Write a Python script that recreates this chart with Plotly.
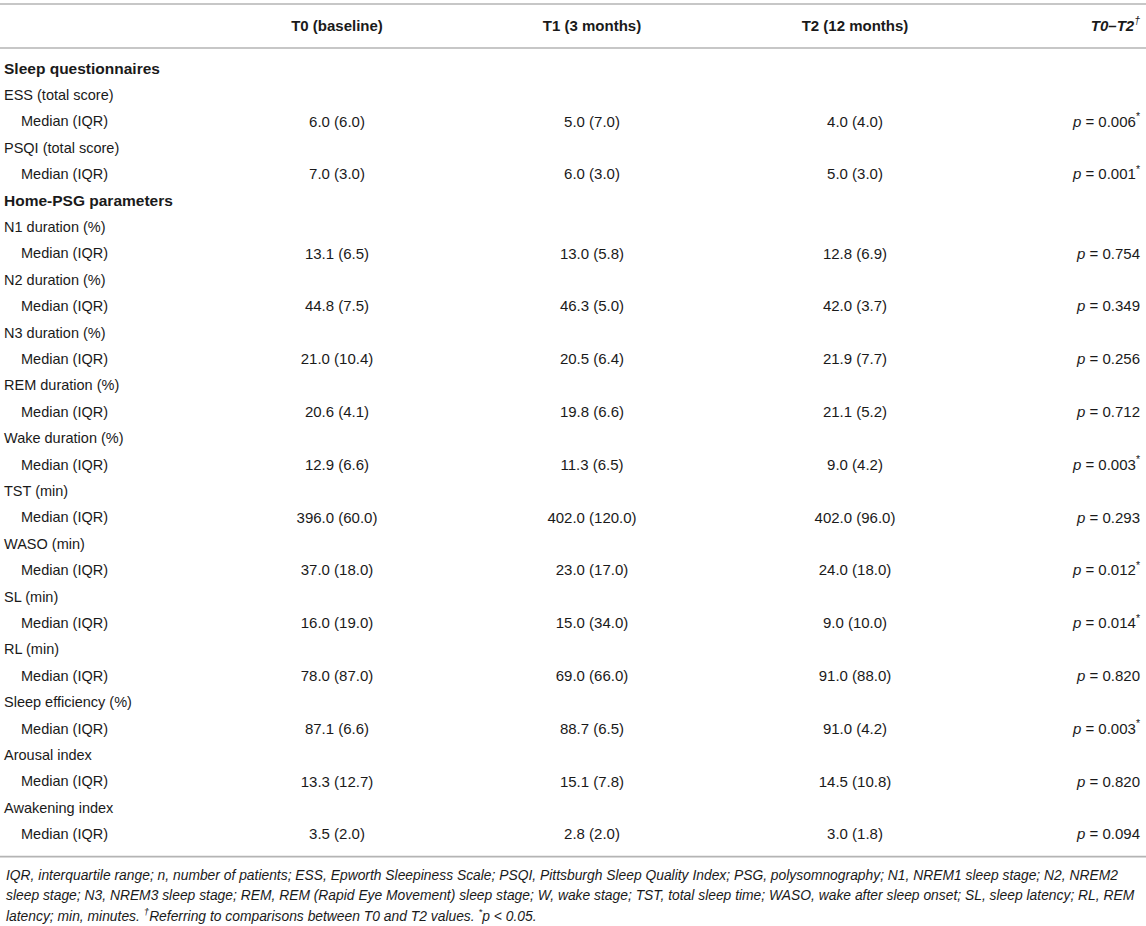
import plotly.graph_objects as go

# table content
groups = ["Sleep questionnaires", "Home-PSG parameters"]
params = [
    "ESS (total score)", "PSQI (total score)",
    "N1 duration (%)", "N2 duration (%)", "N3 duration (%)", "REM duration (%)",
    "Wake duration (%)", "TST (min)", "WASO (min)", "SL (min)", "RL (min)",
    "Sleep efficiency (%)", "Arousal index", "Awakening index",
]
param_group = [0, 0, 1, 1, 1, 1, 1, 1, 1, 1, 1, 1, 1, 1]

t0_med = [6.0, 7.0, 13.1, 44.8, 21.0, 20.6, 12.9, 396.0, 37.0, 16.0, 78.0, 87.1, 13.3, 3.5]
t0_iqr = [6.0, 3.0, 6.5, 7.5, 10.4, 4.1, 6.6, 60.0, 18.0, 19.0, 87.0, 6.6, 12.7, 2.0]
t1_med = [5.0, 6.0, 13.0, 46.3, 20.5, 19.8, 11.3, 402.0, 23.0, 15.0, 69.0, 88.7, 15.1, 2.8]
t1_iqr = [7.0, 3.0, 5.8, 5.0, 6.4, 6.6, 6.5, 120.0, 17.0, 34.0, 66.0, 6.5, 7.8, 2.0]
t2_med = [4.0, 5.0, 12.8, 42.0, 21.9, 21.1, 9.0, 402.0, 24.0, 9.0, 91.0, 91.0, 14.5, 3.0]
t2_iqr = [4.0, 3.0, 6.9, 3.7, 7.7, 5.2, 4.2, 96.0, 18.0, 10.0, 88.0, 4.2, 10.8, 1.8]
p_t0_t2 = [0.006, 0.001, 0.754, 0.349, 0.256, 0.712, 0.003, 0.293, 0.012, 0.014, 0.820, 0.003, 0.820, 0.094]

headers = ["T0 (baseline)", "T1 (3 months)", "T2 (12 months)"]

footnote = [
    "IQR, interquartile range; n, number of patients; ESS, Epworth Sleepiness Scale; PSQI, Pittsburgh Sleep Quality Index; PSG, polysomnography; N1, NREM1 sleep stage; N2, NREM2",
    "sleep stage; N3, NREM3 sleep stage; REM, REM (Rapid Eye Movement) sleep stage; W, wake stage; TST, total sleep time; WASO, wake after sleep onset; SL, sleep latency; RL, REM",
    "latency; min, minutes. <sup>†</sup>Referring to comparisons between T0 and T2 values. <sup>*</sup>p < 0.05.",
]

W, H = 1146, 926
FONT = "Liberation Sans, Arial, Helvetica, sans-serif"
INK = "#1a1a1a"
RULE = "#b4b4b4"

# build the rows: group heading, parameter name, median row
grp_txt, grp_y = [], []
name_txt, name_y = [], []
med_y = []
cells = {0: [], 1: [], 2: [], 3: []}
y0, step = 70, 26.4
row = 0
last_group = None
for i, name in enumerate(params):
    if param_group[i] != last_group:
        grp_txt.append("<b>" + groups[param_group[i]] + "</b>")
        grp_y.append(y0 + step * row)
        row += 1
        last_group = param_group[i]
    name_txt.append(name)
    name_y.append(y0 + step * row)
    row += 1
    med_y.append(y0 + step * row)
    cells[0].append(f"{t0_med[i]:.1f} ({t0_iqr[i]:.1f})")
    cells[1].append(f"{t1_med[i]:.1f} ({t1_iqr[i]:.1f})")
    cells[2].append(f"{t2_med[i]:.1f} ({t2_iqr[i]:.1f})")
    star = "<sup>*</sup>" if p_t0_t2[i] < 0.05 else ""
    cells[3].append(f"<i>p</i> = {p_t0_t2[i]:.3f}{star}")
    row += 1
table_bottom = y0 + step * (row - 1) + 21

col_x = [337, 592, 855]


def text_trace(x, y, text, pos, size):
    return go.Scatter(
        x=x, y=y, text=text, mode="text", textposition=pos,
        textfont=dict(family=FONT, size=size, color=INK),
        hoverinfo="skip", showlegend=False,
    )


fig = go.Figure()
fig.add_trace(text_trace([4] * len(grp_y), grp_y, grp_txt, "middle right", 15.5))
fig.add_trace(text_trace([4] * len(name_y), name_y, name_txt, "middle right", 14.5))
fig.add_trace(text_trace([21] * len(med_y), med_y, ["Median (IQR)"] * len(med_y), "middle right", 14.5))
for c in range(3):
    fig.add_trace(text_trace([col_x[c]] * len(med_y), med_y, cells[c], "middle center", 15))
fig.add_trace(text_trace([1140] * len(med_y), med_y, cells[3], "middle left", 15))

# header row
fig.add_trace(text_trace(col_x, [27] * 3, ["<b>" + h + "</b>" for h in headers], "middle center", 15))
fig.add_trace(text_trace([1140], [27], ["<b><i>T0–T2</i></b><sup><i>†</i></sup>"], "middle left", 15))

# rules
for yy in [4, 48, table_bottom]:
    fig.add_shape(type="line", x0=0, x1=W, y0=yy, y1=yy, xref="x", yref="y",
                  line=dict(color=RULE, width=1.6))

for k, line in enumerate(footnote):
    fig.add_annotation(
        x=4, y=table_bottom + 18 + 20 * k, xref="x", yref="y", text="<i>" + line + "</i>",
        showarrow=False, xanchor="left", yanchor="middle",
        font=dict(family=FONT, size=13.85, color=INK),
    )

fig.update_xaxes(range=[0, W], visible=False, fixedrange=True)
fig.update_yaxes(range=[H, 0], visible=False, fixedrange=True)
fig.update_layout(
    width=W, height=H, margin=dict(l=0, r=0, t=0, b=0),
    paper_bgcolor="white", plot_bgcolor="white",
)

fig.write_html(
    "out.html",
    config={"displayModeBar": False},
    post_script="document.body.style.margin='0';document.body.style.overflow='hidden';",
)
